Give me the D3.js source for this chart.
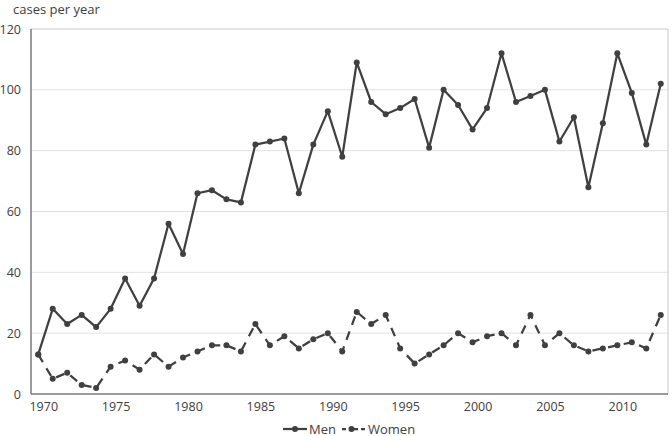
<!DOCTYPE html>
<html><head><meta charset="utf-8">
<script src="https://cdn.jsdelivr.net/npm/d3@7/dist/d3.min.js"></script>
<style>
html,body{margin:0;padding:0;background:#fff;}
svg text{font-family:"Open Sans",sans-serif;fill:#404040;}
</style></head><body>
<svg id="c" width="672" height="436"></svg>
<script>
const years = d3.range(1970, 2014);
const men = [13,28,23,26,22,28,38,29,38,56,46,66,67,64,63,82,83,84,66,82,93,78,109,96,92,94,97,81,100,95,87,94,112,96,98,100,83,91,68,89,112,99,82,102];
const women = [13,5,7,3,2,9,11,8,13,9,12,14,16,16,14,23,16,19,15,18,20,14,27,23,26,15,10,13,16,20,17,19,20,16,26,16,20,16,14,15,16,17,15,26];
const yTicks = [0,20,40,60,80,100,120];
const xLabelYears = [1970,1975,1980,1985,1990,1995,2000,2005,2010];
const seriesNames = ["Men","Women"];

const svg = d3.select("#c");
const L = 31, R = 668, T = 29, B = 394;
const x = d3.scalePoint().domain(years).range([L, R]).padding(0.5);
const y = d3.scaleLinear().domain([0,120]).range([B, T]);
const col = "#404040";

// gridlines
svg.append("g").selectAll("line").data(yTicks.filter(d=>d>0)).join("line")
  .attr("x1", L).attr("x2", R).attr("y1", d=>y(d)).attr("y2", d=>y(d))
  .attr("stroke", d=>d===120?"#c8c8c8":"#e2e2e2").attr("stroke-width",1);
// right border
svg.append("line").attr("x1",R).attr("x2",R).attr("y1",T).attr("y2",B).attr("stroke","#c8c8c8");
// axes lines
svg.append("line").attr("x1",L).attr("x2",L).attr("y1",T).attr("y2",B).attr("stroke","#7a7a7a").attr("stroke-width",1.5);
svg.append("line").attr("x1",L).attr("x2",R).attr("y1",B).attr("y2",B).attr("stroke","#7a7a7a").attr("stroke-width",1.5);

// y labels
const yAxis = d3.axisLeft(y).tickValues(yTicks).tickSize(0).tickPadding(10);
const gy = svg.append("g").attr("transform",`translate(${L},0)`).call(yAxis);
gy.select(".domain").remove();
gy.selectAll("text").attr("font-size",12.5).attr("fill","#404040").style("font-family","'Open Sans',sans-serif");

// x labels
const xAxis = d3.axisBottom(x).tickValues(xLabelYears).tickSize(0).tickPadding(8);
const gx = svg.append("g").attr("transform",`translate(0,${B})`).call(xAxis);
gx.select(".domain").remove();
gx.selectAll("text").attr("font-size",12.5).attr("dx",5).attr("fill","#404040").style("font-family","'Open Sans',sans-serif");

// title
svg.append("text").attr("x",13).attr("y",13.5).attr("font-size",13).text("cases per year");

const line = d3.line().x((d,i)=>x(years[i])).y(d=>y(d));
const data = [men, women];
data.forEach((s, k) => {
  svg.append("path").datum(s).attr("d", line).attr("fill","none")
    .attr("stroke", col).attr("stroke-width", 2.25)
    .attr("stroke-linejoin","round")
    .attr("stroke-dasharray", k===1 ? "9,7" : null);
  svg.append("g").selectAll("circle").data(s).join("circle")
    .attr("cx",(d,i)=>x(years[i])).attr("cy",d=>y(d)).attr("r",3).attr("fill",col);
});

// legend
const leg = svg.append("g");
const items = [{name:seriesNames[0], x0:283, x1:307, dash:null, tx:309},
               {name:seriesNames[1], x0:342, x1:365, dash:"4,3,9,3", tx:368}];
const ly = 429;
items.forEach(it => {
  leg.append("line").attr("x1",it.x0).attr("x2",it.x1).attr("y1",ly).attr("y2",ly)
    .attr("stroke",col).attr("stroke-width",2.25).attr("stroke-dasharray",it.dash);
  leg.append("circle").attr("cx",(it.x0+it.x1)/2 - (it.dash?2:0)).attr("cy",ly).attr("r",3).attr("fill",col);
  leg.append("text").attr("x",it.tx).attr("y",ly+4.5).attr("font-size",13).text(it.name);
});
</script>
</body></html>
